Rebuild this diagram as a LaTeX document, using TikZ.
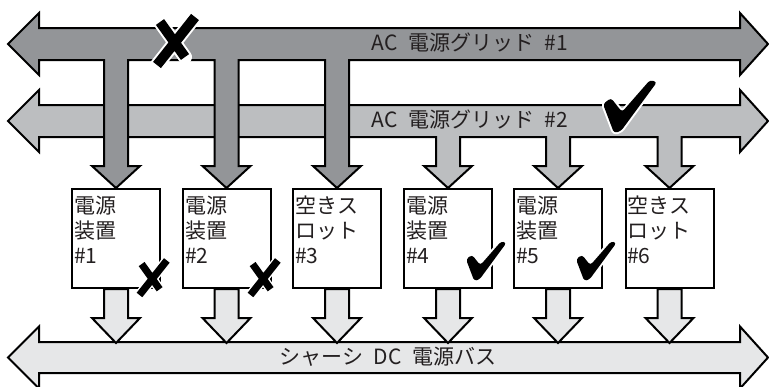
\documentclass[tikz,border=0pt]{standalone}
\usepackage{fontspec}
\newfontfamily\jpfont{Noto Sans CJK JP}
\usetikzlibrary{positioning, calc}
\definecolor{gridone}{RGB}{147,149,152}
\definecolor{gridtwo}{RGB}{188,190,192}
\definecolor{dcgray}{RGB}{230,231,232}
\definecolor{txtdark}{RGB}{35,31,32}
\tikzset{
  busline/.style={draw=black, line width=2pt, line join=miter},
  psu/.style={rectangle, draw=black, fill=white, line width=2pt,
    minimum width=88pt, minimum height=99pt, inner sep=0pt},
  psutext/.style={anchor=north west, align=left, inner sep=0pt,
    font=\jpfont\fontsize{21}{25}\selectfont, text=txtdark},
  buslabel/.style={inner sep=0pt, font=\jpfont\fontsize{21}{24}\selectfont, text=txtdark},
  pics/failx/.style={code={
    \draw[white, line width=14pt*#1, line cap=round]
      (-16*#1,25*#1) -- (22*#1,-23*#1) (-13*#1,-18*#1) -- (12*#1,17*#1);
    \draw[black, line width=10pt*#1]
      (-16*#1,25*#1) -- (22*#1,-23*#1) (-13*#1,-18*#1) -- (12*#1,17*#1);
  }},
  pics/okcheck/.style={code={
    \draw[white, line width=4pt, rounded corners=3pt, line join=round]
      (-12*#1,-29*#1) -- (-4*#1,-35*#1) -- (7*#1,-21*#1) -- (35*#1,-53*#1)
      -- (42*#1,-51*#1) -- (6*#1,-2*#1) -- (-1*#1,0) -- cycle;
    \fill[black, rounded corners=3pt]
      (-12*#1,-29*#1) -- (-4*#1,-35*#1) -- (7*#1,-21*#1) -- (35*#1,-53*#1)
      -- (42*#1,-51*#1) -- (6*#1,-2*#1) -- (-1*#1,0) -- cycle;
  }}
}
\begin{document}
\begin{tikzpicture}[x=1pt, y=-1pt]
  \useasboundingbox (0,0) rectangle (769,386);

  \draw[busline, fill=gridtwo] (8,121) -- (39,90) -- (39,105) -- (740,105) -- (740,90) -- (768,121)
    -- (740,152) -- (740,137)
    foreach \cx in {669.5,558,448} { -- (\cx+12,137) -- (\cx+12,166) -- (\cx+24,166) -- (\cx,188)
      -- (\cx-24,166) -- (\cx-12,166) -- (\cx-12,137) }
    -- (39,137) -- (39,152) -- cycle;
  \draw[busline, fill=gridone] (8,44) -- (39,13) -- (39,28) -- (740,28) -- (740,13) -- (768,44)
    -- (740,75) -- (740,60)
    foreach \cx in {337,226.5,116} { -- (\cx+12,60) -- (\cx+12,166) -- (\cx+24,166) -- (\cx,188)
      -- (\cx-24,166) -- (\cx-12,166) -- (\cx-12,60) }
    -- (39,60) -- (39,75) -- cycle;
  \draw[busline, fill=dcgray] (8,357.5) -- (39,326.5) -- (39,342) -- (740,342) -- (740,326.5)
    -- (768,357.5) -- (740,388.5) -- (740,373) -- (39,373) -- (39,388.5) -- cycle;

  \node[psu] (p1) at (116,238.5) {};
  \node[psu] (p2) at (226.5,238.5) {};
  \node[psu] (p3) at (337,238.5) {};
  \node[psu] (p4) at (448,238.5) {};
  \node[psu] (p5) at (558,238.5) {};
  \node[psu] (p6) at (669.5,238.5) {};

  \foreach \n in {p1,p2,p3,p4,p5,p6}
    \draw[busline, fill=dcgray] ($(\n.south)+(-12,0)$) -- ++(0,29) -- ++(-12,0) -- ++(24,25)
      -- ++(24,-25) -- ++(-12,0) -- ++(0,-29) -- cycle;

  \node[psutext] (t1) at (74,196) {電源\\装置\\\#1};
  \node[psutext] (t2) at (185,196) {電源\\装置\\\#2};
  \node[psutext] (t3) at (295,196) {空きス\\ロット\\\#3};
  \node[psutext] (t4) at (406,196) {電源\\装置\\\#4};
  \node[psutext] (t5) at (516,196) {電源\\装置\\\#5};
  \node[psutext] (t6) at (627,196) {空きス\\ロット\\\#6};

  \node[buslabel] (g1) at (470,43) {AC\enspace 電源グリッド\enspace\#1};
  \node[buslabel] (g2) at (470,120) {AC\enspace 電源グリッド\enspace\#2};
  \node[buslabel] (bus) at (388,356.5) {シャーシ\enspace DC\enspace 電源バス};

  \pic at (173,40) {failx=1};
  \pic at (151,277) {failx=0.72};
  \pic at (262,277) {failx=0.72};
  \pic at (615,133) {okcheck=1};
  \pic at (475,281) {okcheck=0.75};
  \pic at (585,281) {okcheck=0.75};
\end{tikzpicture}
\end{document}
